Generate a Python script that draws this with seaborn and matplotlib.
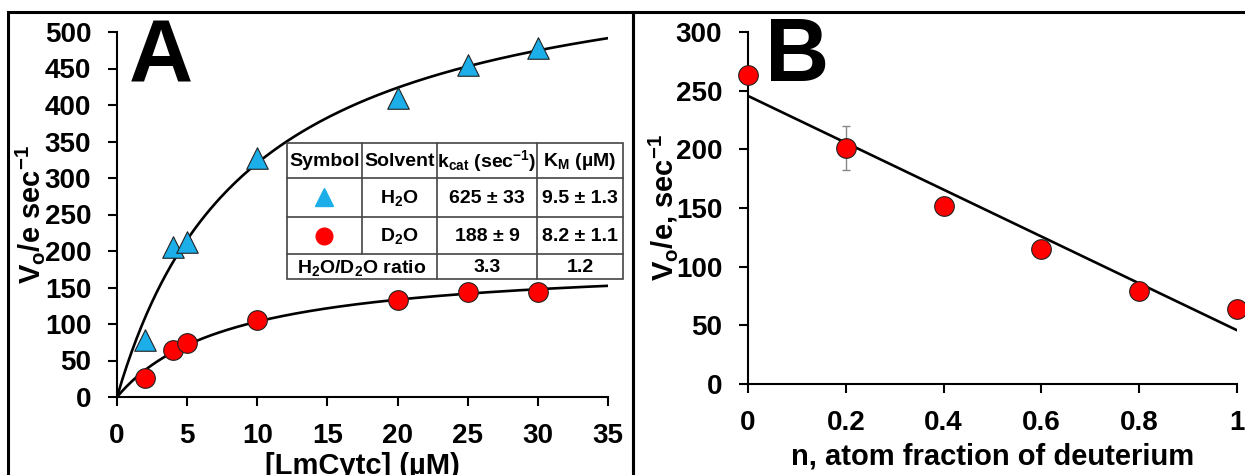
import numpy as np
import pandas as pd
import seaborn as sns
import matplotlib.pyplot as plt
from matplotlib.patches import Rectangle
from matplotlib.lines import Line2D

# panel A data
conc = [2, 4, 5, 10, 20, 25, 30]
v_h2o = [78, 205, 212, 327, 410, 455, 478]
v_d2o = [26, 64, 74, 106, 133, 144, 144]
kcat = [625, 188]
km = [9.5, 8.2]

# panel B data
nfrac = [0, 0.2, 0.4, 0.6, 0.8, 1.0]
v_mix = [263, 201, 152, 115, 79, 64]
err_mix = [0, 19, 0, 0, 0, 0]

blue = "#1BAEE8"
red = "#FF0000"

sns.set_style("ticks")
plt.rcParams["font.family"] = ["Liberation Sans", "DejaVu Sans"]
plt.rcParams["font.weight"] = "bold"
plt.rcParams["mathtext.default"] = "regular"
plt.rcParams["text.color"] = "black"
plt.rcParams["axes.labelcolor"] = "black"

fig = plt.figure(figsize=(12.45, 4.75), dpi=100)
W, H = 1245, 475

def px_axes(l, t, r, b):
    return fig.add_axes([l / W, 1 - b / H, (r - l) / W, (b - t) / H])

axA = px_axes(117, 32, 608, 397)
axB = px_axes(748, 32, 1237, 384)

for ax in (axA, axB):
    sns.despine(ax=ax)
    ax.spines["left"].set_linewidth(1.5)
    ax.spines["bottom"].set_linewidth(1.5)
    ax.spines["left"].set_color("black")
    ax.spines["bottom"].set_color("black")
    ax.tick_params(direction="out", length=6.5, width=1.5, pad=12, labelsize=20, colors="black")

# ---- panel A
xs = np.linspace(0, 35, 200)
for k, m in zip(kcat, km):
    fit = pd.DataFrame({"x": xs, "y": k * xs / (m + xs)})
    sns.lineplot(data=fit, x="x", y="y", ax=axA, color="black", lw=1.9, zorder=2)

dA = pd.DataFrame({"x": conc, "h": v_h2o, "d": v_d2o})
sns.scatterplot(data=dA, x="x", y="h", ax=axA, marker="^", s=240, color=blue,
                edgecolor="#222222", linewidth=0.8, zorder=5, clip_on=False)
sns.scatterplot(data=dA, x="x", y="d", ax=axA, marker="o", s=200, color=red,
                edgecolor="#222222", linewidth=0.8, zorder=5, clip_on=False)
axA.set_xlim(0, 35)
axA.set_ylim(0, 500)
axA.set_xticks(range(0, 36, 5))
axA.set_yticks(range(0, 501, 50))
axA.set_xlabel("[LmCytc] (µM)", fontsize=21, fontweight="bold")
axA.set_ylabel("V$_o$/e sec$^{-1}$", fontsize=21, fontweight="bold")
axA.xaxis.set_label_coords(0.5, -0.151)
axA.yaxis.set_label_coords(-0.143, 0.5)
for lab in axA.get_xticklabels() + axA.get_yticklabels():
    lab.set_fontweight("bold")

# table in panel A
col_x = [287, 362, 437, 537, 623]
row_y = [143, 178, 217, 254, 279]
tcol = "#444444"
fig.add_artist(Rectangle((col_x[0] / W, 1 - row_y[-1] / H), (col_x[-1] - col_x[0]) / W,
                         (row_y[-1] - row_y[0]) / H, transform=fig.transFigure,
                         facecolor="white", edgecolor=tcol, lw=1.2, zorder=10))
for y in row_y[1:-1]:
    fig.add_artist(Line2D([col_x[0] / W, col_x[-1] / W], [1 - y / H] * 2, color=tcol, lw=1.2, zorder=11))
for i, x in enumerate(col_x[1:-1], start=1):
    yb = row_y[-1] if i >= 2 else row_y[-2]
    fig.add_artist(Line2D([x / W] * 2, [1 - row_y[0] / H, 1 - yb / H], color=tcol, lw=1.2, zorder=11))

header = ["Symbol", "Solvent", "k$_{cat}$ (sec$^{-1}$)", "K$_M$ (µM)"]
rows = [["", "H$_2$O", "625 ± 33", "9.5 ± 1.3"],
        ["", "D$_2$O", "188 ± 9", "8.2 ± 1.1"]]
def cell(xc, yc, s):
    fig.text(xc / W, 1 - yc / H, s, ha="center", va="center", fontsize=14,
             fontweight="bold", zorder=12)
for j, s in enumerate(header):
    cell((col_x[j] + col_x[j + 1]) / 2, (row_y[0] + row_y[1]) / 2 + 1, s)
for i, r in enumerate(rows):
    for j, s in enumerate(r):
        if s:
            cell((col_x[j] + col_x[j + 1]) / 2, (row_y[i + 1] + row_y[i + 2]) / 2 + 1, s)
cell((col_x[0] + col_x[2]) / 2, (row_y[3] + row_y[4]) / 2 + 1, "H$_2$O/D$_2$O ratio")
cell((col_x[2] + col_x[3]) / 2, (row_y[3] + row_y[4]) / 2 + 1, "3.3")
cell((col_x[3] + col_x[4]) / 2, (row_y[3] + row_y[4]) / 2 + 1, "1.2")
sx = (col_x[0] + col_x[1]) / 2 / W
fig.add_artist(Line2D([sx], [1 - 197 / H], marker="^", ms=13, mfc=blue, mec=blue, zorder=12))
fig.add_artist(Line2D([sx], [1 - 235.5 / H], marker="o", ms=12, mfc=red, mec=red, zorder=12))

# ---- panel B
dB = pd.DataFrame({"n": nfrac, "v": v_mix, "e": err_mix})
sns.regplot(data=dB, x="n", y="v", ax=axB, ci=None, scatter=False, truncate=True,
            line_kws={"color": "black", "lw": 1.9, "zorder": 2})
axB.errorbar(nfrac[1], v_mix[1], yerr=err_mix[1], fmt="none", ecolor="#888888",
             elinewidth=1, capsize=3, zorder=3)
sns.scatterplot(data=dB, x="n", y="v", ax=axB, marker="o", s=200, color=red,
                edgecolor="#222222", linewidth=0.8, zorder=5, clip_on=False)
axB.set_xlim(0, 1)
axB.set_ylim(0, 300)
axB.set_xticks([0, 0.2, 0.4, 0.6, 0.8, 1])
axB.set_xticklabels(["0", "0.2", "0.4", "0.6", "0.8", "1"])
axB.set_yticks(range(0, 301, 50))
axB.set_xlabel("n, atom fraction of deuterium", fontsize=21, fontweight="bold")
axB.set_ylabel("V$_o$/e, sec$^{-1}$", fontsize=21, fontweight="bold")
axB.xaxis.set_label_coords(0.5, -0.165)
axB.yaxis.set_label_coords(-0.139, 0.5)
for lab in axB.get_xticklabels() + axB.get_yticklabels():
    lab.set_fontweight("bold")

# panel letters
fig.text(161 / W, 1 - 59 / H, "A", fontsize=64, fontweight="bold", ha="center", va="center", color="black")
fig.text(797 / W, 1 - 58 / H, "B", fontsize=64, fontweight="bold", ha="center", va="center", color="black")

# panel frames
for x0, x1 in [(8, 632.5), (632.5, 1260)]:
    fig.add_artist(Rectangle((x0 / W, -0.1), (x1 - x0) / W, 1.1 - 12 / H,
                             transform=fig.transFigure, fill=False, edgecolor="black", lw=2.2))

fig.savefig("out.png", dpi=100)
